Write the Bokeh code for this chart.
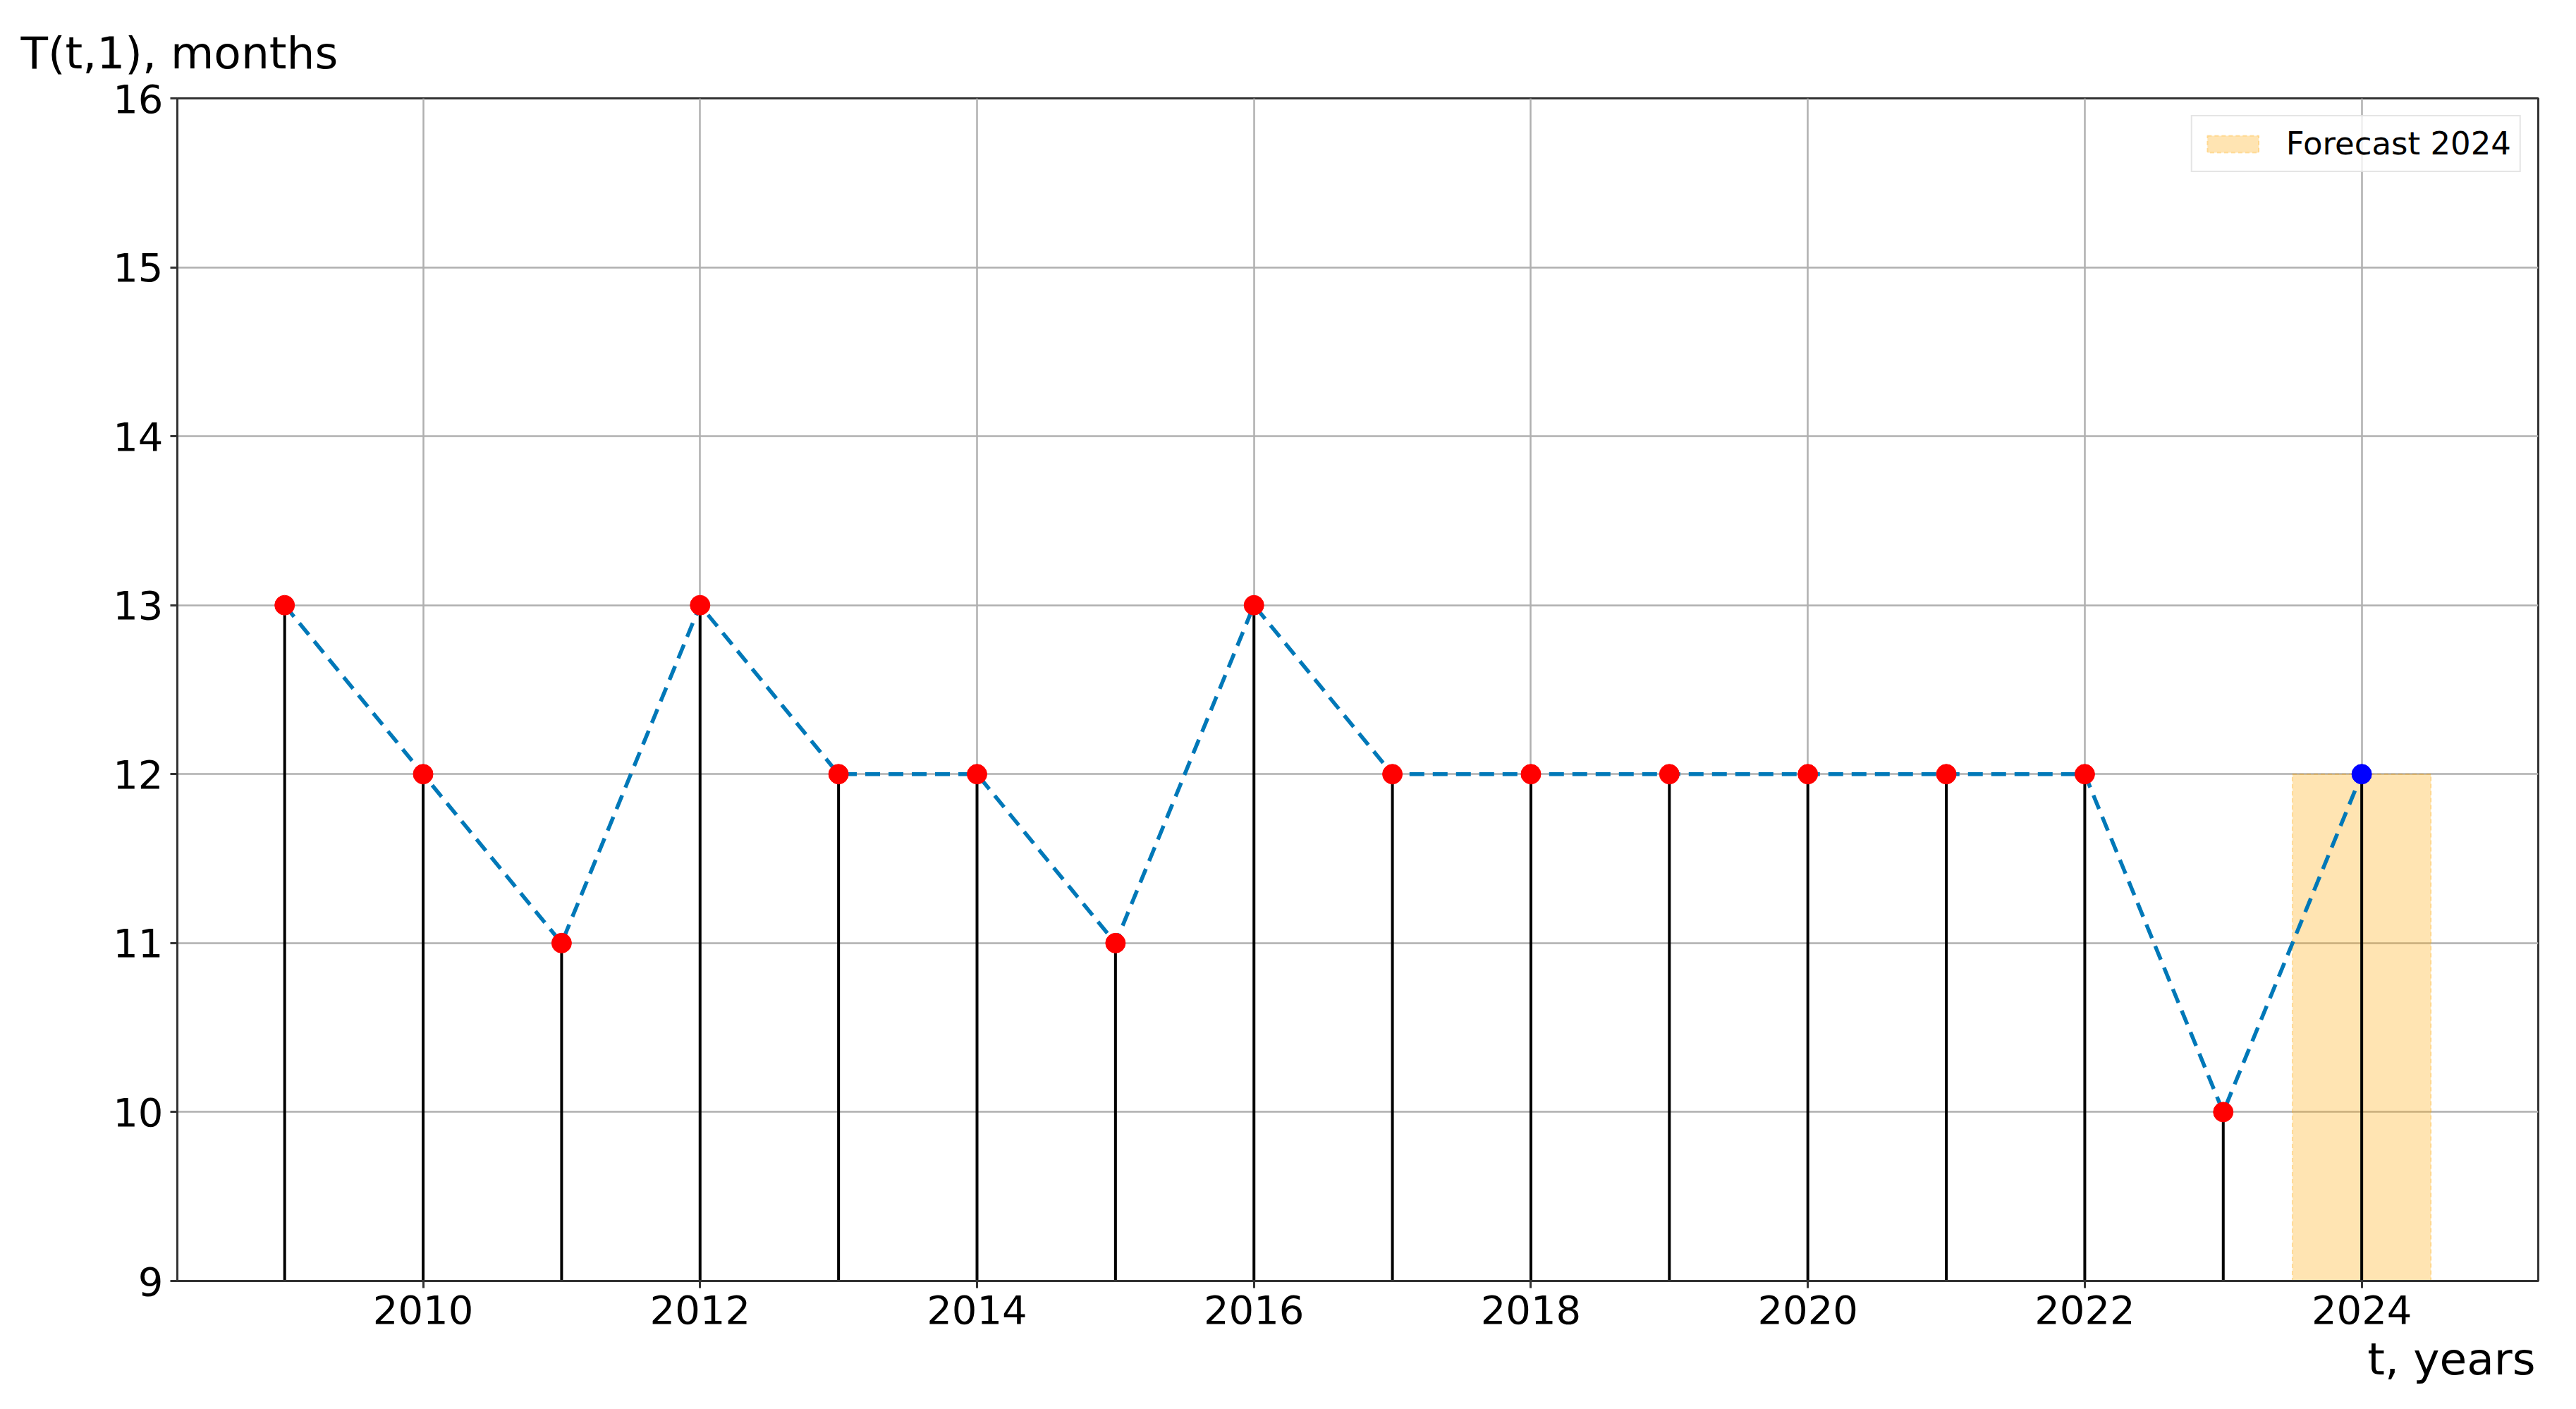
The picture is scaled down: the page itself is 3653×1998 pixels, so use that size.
from bokeh.plotting import figure
from bokeh.models import Range1d, Title, Legend, LegendItem, FixedTicker
from bokeh.embed import file_html
from bokeh.resources import INLINE

# ---- data ----
years = [2009, 2010, 2011, 2012, 2013, 2014, 2015, 2016, 2017, 2018, 2019, 2020, 2021, 2022, 2023]
months = [13, 12, 11, 13, 12, 12, 11, 13, 12, 12, 12, 12, 12, 12, 10]
forecast_year = [2024]
forecast_value = [12]
forecast_span = [2023.5, 2024.5]
x_ticks = [2010, 2012, 2014, 2016, 2018, 2020, 2022, 2024]
y_ticks = [9, 10, 11, 12, 13, 14, 15, 16]
y_floor = 9
y_ceiling = 16
y_label = "T(t,1), months"
x_label = "t, years"
legend_label = "Forecast 2024"

all_years = years + forecast_year
all_values = months + forecast_value

FONT = "DejaVu Sans"

p = figure(width=3636, height=1980, output_backend="svg", toolbar_location=None,
           x_range=Range1d(2008.225, 2025.275), y_range=Range1d(y_floor, y_ceiling),
           min_border_left=251, min_border_top=139, min_border_right=37, min_border_bottom=164)
p.background_fill_color = "white"
p.border_fill_color = "white"
p.outline_line_color = "#333333"
p.outline_line_width = 3

for ax in (p.xaxis[0], p.yaxis[0]):
    ax.axis_line_color = "#333333"
    ax.axis_line_width = 3
    ax.major_tick_line_color = "#333333"
    ax.major_tick_line_width = 3
    ax.major_tick_out = 10
    ax.major_tick_in = 0
    ax.minor_tick_line_color = None
    ax.major_label_text_font = FONT
    ax.major_label_text_font_size = "56px"
    ax.major_label_text_color = "black"
    ax.major_label_standoff = 10
p.xaxis.ticker = FixedTicker(ticks=x_ticks)
p.yaxis.ticker = FixedTicker(ticks=y_ticks)
p.xgrid.ticker = FixedTicker(ticks=x_ticks)
p.ygrid.ticker = FixedTicker(ticks=y_ticks)
for g in (p.xgrid[0], p.ygrid[0]):
    g.grid_line_color = "#b0b0b0"
    g.grid_line_width = 2.5

# forecast span
span = p.quad(left=[forecast_span[0]], right=[forecast_span[1]], bottom=[y_floor], top=forecast_value,
              fill_color="orange", fill_alpha=0.3, line_color="orange", line_alpha=0.3,
              line_width=2, line_dash="6 4")

# stems
p.segment(x0=all_years, y0=[y_floor] * len(all_years), x1=all_years, y1=all_values,
          line_color="black", line_width=4)

# dashed connecting line
p.line(all_years, all_values, line_color="#0078b8", line_width=5.5, line_dash="21 12")

# markers
p.scatter(years, months, size=28, fill_color="red", line_color="red")
p.scatter(forecast_year, forecast_value, size=28, fill_color="blue", line_color="blue")

legend = Legend(items=[LegendItem(label=legend_label, renderers=[span])], location="top_right")
legend.margin = 24
legend.padding = 12
legend.glyph_width = 91
legend.glyph_height = 30
legend.label_standoff = 30
legend.label_text_font = FONT
legend.label_text_font_size = "45px"
legend.label_text_color = "black"
legend.border_line_color = "#cccccc"
legend.border_line_width = 2
legend.background_fill_alpha = 0.8
p.add_layout(legend)

p.add_layout(Title(text=y_label, align="left", offset=-222, standoff=55,
                   text_font=FONT, text_font_size="63px", text_font_style="normal",
                   text_color="black"), "above")
p.add_layout(Title(text=x_label, align="right", offset=4, standoff=18,
                   text_font=FONT, text_font_size="63px", text_font_style="normal",
                   text_color="black"), "below")

open("out.html", "w").write(file_html(p, INLINE))
